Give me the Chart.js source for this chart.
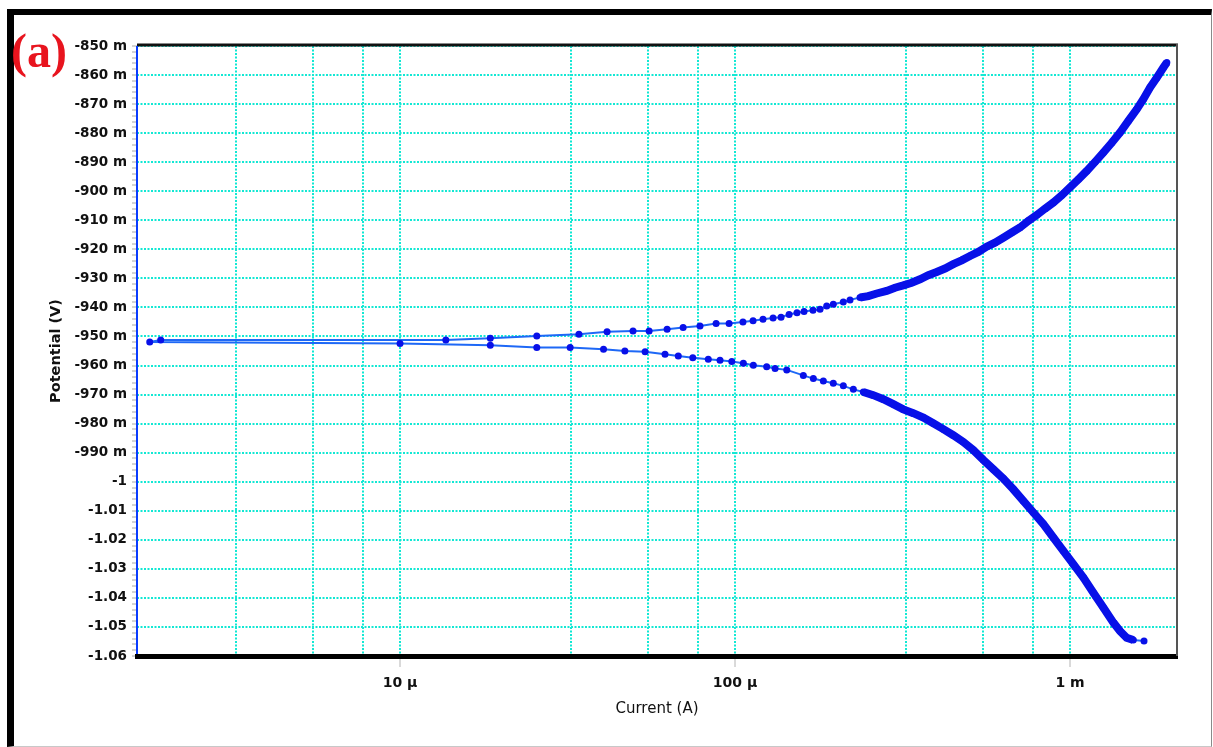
<!DOCTYPE html>
<html>
<head>
<meta charset="utf-8">
<title>Potentiodynamic polarization</title>
<script src="https://cdn.jsdelivr.net/npm/chart.js@4.4.1/dist/chart.umd.min.js"></script>
<style>
  html, body { margin: 0; padding: 0; background: #fff; }
  #wrap { position: relative; width: 1213px; height: 747px; overflow: hidden; }
  #frame {
    position: absolute; left: 7px; top: 9px; width: 1205px; height: 738px; box-sizing: border-box;
    border-left: 7px solid #000; border-top: 6px solid #000;
    border-right: 1px solid #8a8a8a; border-bottom: 1px solid #c8c8c8;
  }
  #chartBox { position: absolute; left: 0; top: 0; width: 1213px; height: 747px; }
  #panel {
    position: absolute; left: 11px; top: 23px; line-height: 1;
    font: bold 48px "Liberation Serif", "Times New Roman", serif; color: #e8141e;
  }
</style>
</head>
<body>
<div id="wrap">
  <div id="frame"></div>
  <div id="chartBox"><canvas id="tafel"></canvas></div>
  <div id="panel">(a)</div>
</div>
<script>
// cathodic branch, from Ecorr outwards (current in A, potential in V)
const cathodicCurrent = [
  1.79e-6, 1.00e-5, 1.86e-5, 2.56e-5, 3.22e-5, 4.05e-5, 4.69e-5, 5.39e-5, 6.18e-5, 6.77e-5,
  7.48e-5, 8.32e-5, 9.02e-5, 9.78e-5, 1.059e-4, 1.134e-4, 1.243e-4, 1.317e-4, 1.427e-4, 1.599e-4,
  1.713e-4, 1.835e-4, 1.965e-4, 2.105e-4, 2.255e-4, 2.415e-4, 2.587e-4, 2.771e-4, 2.968e-4, 3.179e-4,
  3.405e-4, 3.648e-4, 3.907e-4, 4.185e-4, 4.482e-4, 4.801e-4, 5.143e-4, 5.509e-4, 5.902e-4, 6.321e-4,
  6.772e-4, 7.254e-4, 7.771e-4, 8.325e-4, 8.915e-4, 9.550e-4, 1.023e-3, 1.096e-3, 1.174e-3, 1.257e-3,
  1.347e-3, 1.410e-3, 1.476e-3, 1.545e-3, 1.663e-3
];
const cathodicPotential = [
  -0.9519, -0.9524, -0.9530, -0.9538, -0.9538, -0.9544, -0.9550, -0.9553, -0.9561, -0.9567,
  -0.9573, -0.9578, -0.9582, -0.9586, -0.9592, -0.9599, -0.9604, -0.9610, -0.9615, -0.9634,
  -0.9645, -0.9653, -0.9661, -0.9670, -0.9682, -0.9691, -0.9702, -0.9716, -0.9733, -0.9751,
  -0.9764, -0.9779, -0.9799, -0.9819, -0.9840, -0.9863, -0.9891, -0.9925, -0.9957, -0.9989,
  -1.0026, -1.0066, -1.0106, -1.0146, -1.0192, -1.0238, -1.0284, -1.0330, -1.0382, -1.0433,
  -1.0485, -1.0514, -1.0537, -1.0545, -1.0548
];

// anodic branch, from Ecorr outwards
const anodicCurrent = [
  1.93e-6, 1.37e-5, 1.86e-5, 2.56e-5, 3.42e-5, 4.15e-5, 4.96e-5, 5.54e-5, 6.27e-5, 7.00e-5,
  7.86e-5, 8.78e-5, 9.60e-5, 1.056e-4, 1.132e-4, 1.212e-4, 1.299e-4, 1.372e-4, 1.450e-4, 1.531e-4,
  1.607e-4, 1.709e-4, 1.794e-4, 1.878e-4, 1.965e-4, 2.105e-4, 2.204e-4, 2.361e-4, 2.500e-4, 2.649e-4,
  2.836e-4, 3.003e-4, 3.179e-4, 3.368e-4, 3.565e-4, 3.776e-4, 3.999e-4, 4.234e-4, 4.482e-4, 4.749e-4,
  5.028e-4, 5.323e-4, 5.638e-4, 5.970e-4, 6.321e-4, 6.698e-4, 7.089e-4, 7.506e-4, 7.952e-4, 8.419e-4,
  8.915e-4, 9.445e-4, 1.000e-3, 1.059e-3, 1.122e-3, 1.188e-3, 1.257e-3, 1.332e-3, 1.410e-3, 1.493e-3,
  1.582e-3, 1.655e-3, 1.733e-3, 1.815e-3, 1.900e-3, 1.945e-3
];
const anodicPotential = [
  -0.9512, -0.9512, -0.9506, -0.9498, -0.9492, -0.9484, -0.9481, -0.9481, -0.9475, -0.9469,
  -0.9464, -0.9455, -0.9455, -0.9450, -0.9446, -0.9441, -0.9436, -0.9434, -0.9424, -0.9418,
  -0.9414, -0.9410, -0.9406, -0.9395, -0.9389, -0.9381, -0.9374, -0.9366, -0.9361, -0.9352,
  -0.9343, -0.9332, -0.9324, -0.9315, -0.9303, -0.9289, -0.9278, -0.9266, -0.9251, -0.9238,
  -0.9223, -0.9209, -0.9191, -0.9177, -0.9160, -0.9142, -0.9125, -0.9102, -0.9082, -0.9060,
  -0.9039, -0.9014, -0.8987, -0.8959, -0.8930, -0.8899, -0.8867, -0.8833, -0.8798, -0.8758,
  -0.8718, -0.8683, -0.8643, -0.8609, -0.8574, -0.8557
];

// axis ticks
const potentialTicks = [
  -0.85, -0.86, -0.87, -0.88, -0.89, -0.90, -0.91, -0.92, -0.93, -0.94, -0.95,
  -0.96, -0.97, -0.98, -0.99, -1.00, -1.01, -1.02, -1.03, -1.04, -1.05, -1.06
];
const potentialLabels = [
  '-850 m', '-860 m', '-870 m', '-880 m', '-890 m', '-900 m', '-910 m', '-920 m', '-930 m', '-940 m', '-950 m',
  '-960 m', '-970 m', '-980 m', '-990 m', '-1', '-1.01', '-1.02', '-1.03', '-1.04', '-1.05', '-1.06'
];
const currentTicks = [1e-5, 1e-4, 1e-3];
const currentLabels = ['10 µ', '100 µ', '1 m'];
const currentGrid = [3.24e-6, 5.48e-6, 7.73e-6, 3.24e-5, 5.48e-5, 7.73e-5, 3.24e-4, 5.48e-4, 7.73e-4];

const currentMin = 1.64e-6;
const currentMax = 2.086e-3;

const GRID = 'rgb(18, 232, 212)';
const MARK = 'rgb(8, 16, 232)';
const LINE = 'rgb(30, 104, 246)';

// the scan runs from the cathodic end, through Ecorr, out along the anodic side
const scan = [];
for (let i = cathodicCurrent.length - 1; i >= 0; i--) {
  scan.push({ x: cathodicCurrent[i], y: cathodicPotential[i] });
}
for (let i = 0; i < anodicCurrent.length; i++) {
  scan.push({ x: anodicCurrent[i], y: anodicPotential[i] });
}

function findTick(values, v) {
  return values.findIndex(t => Math.abs(t - v) <= Math.abs(t) * 1e-4);
}

// edges of the plot box: blue left axis, black top, grey right
const plotFrame = {
  id: 'plotFrame',
  afterDraw(chart) {
    const { ctx, chartArea: a } = chart;
    ctx.save();
    ctx.lineWidth = 3;
    ctx.strokeStyle = '#111';
    ctx.beginPath();
    ctx.moveTo(a.left, a.top - 1);
    ctx.lineTo(a.right + 1, a.top - 1);
    ctx.stroke();
    ctx.lineWidth = 2;
    ctx.strokeStyle = '#555';
    ctx.beginPath();
    ctx.moveTo(a.right, a.top - 2);
    ctx.lineTo(a.right, a.bottom);
    ctx.stroke();
    ctx.strokeStyle = '#0a3cff';
    ctx.beginPath();
    ctx.moveTo(a.left, a.top);
    ctx.lineTo(a.left, a.bottom - 2);
    ctx.stroke();
    ctx.restore();
  }
};

const denseFrom = 2.3e-4;
const isDense = c => c.p0DataIndex > 0 && c.p0.parsed.x >= denseFrom && c.p1.parsed.x >= denseFrom;

new Chart(document.getElementById('tafel'), {
  type: 'scatter',
  data: {
    datasets: [{
      label: 'Potential',
      data: scan,
      showLine: true,
      tension: 0,
      borderColor: LINE,
      borderWidth: 2,
      pointRadius: 3.5,
      pointBorderWidth: 0,
      pointBackgroundColor: MARK,
      pointHoverRadius: 3.5,
      segment: {
        // where the points crowd together they read as one heavy band
        borderWidth: c => isDense(c) ? 8 : 2,
        borderColor: c => isDense(c) ? MARK : LINE
      }
    }]
  },
  options: {
    responsive: true,
    maintainAspectRatio: false,
    animation: false,
    events: [],
    layout: { padding: { top: 46, right: 36, left: 0, bottom: 0 } },
    plugins: {
      legend: { display: false },
      tooltip: { enabled: false }
    },
    scales: {
      x: {
        type: 'logarithmic',
        position: 'bottom',
        bounds: 'data',
        min: currentMin,
        max: currentMax,
        afterFit: s => { s.height = 91; },
        afterBuildTicks: s => {
          s.ticks = currentGrid.concat(currentTicks).sort((a, b) => a - b).map(v => ({ value: v }));
        },
        grid: {
          color: GRID,
          lineWidth: 2,
          tickLength: 11,
          tickWidth: 1,
          tickColor: c => (c.tick && findTick(currentTicks, c.tick.value) >= 0) ? '#b4b4b4' : 'rgba(0,0,0,0)'
        },
        border: { display: true, color: '#000', width: 5, dash: [2, 1.5] },
        ticks: {
          autoSkip: false,
          maxRotation: 0,
          padding: 8,
          color: '#111',
          font: { family: 'DejaVu Sans', size: 14, weight: 'bold' },
          callback: v => {
            const i = findTick(currentTicks, v);
            return i < 0 ? '' : currentLabels[i];
          }
        },
        title: {
          display: true,
          text: 'Current (A)',
          color: '#111',
          font: { family: 'DejaVu Sans', size: 15 },
          padding: { top: 0, bottom: 29 }
        }
      },
      y: {
        type: 'linear',
        position: 'left',
        bounds: 'data',
        min: -1.06,
        max: -0.85,
        afterFit: s => { s.width = 137; },
        afterBuildTicks: s => {
          // minor ticks every 2 mV between the labelled ones
          const lo = Math.round(Math.min(...potentialTicks) * 1000);
          const hi = Math.round(Math.max(...potentialTicks) * 1000);
          const t = [];
          for (let mv = lo; mv <= hi; mv += 2) t.push({ value: mv / 1000 });
          s.ticks = t;
        },
        grid: {
          color: c => (c.tick && findTick(potentialTicks, c.tick.value) >= 0) ? GRID : 'rgba(0,0,0,0)',
          lineWidth: 2,
          tickLength: 5,
          tickWidth: 1,
          tickColor: '#a8a8a8'
        },
        border: { display: false, dash: [2, 1.5] },
        ticks: {
          autoSkip: false,
          padding: 5,
          color: '#111',
          font: { family: 'DejaVu Sans', size: 13.5, weight: 'bold' },
          callback: v => {
            const i = findTick(potentialTicks, v);
            return i < 0 ? '' : potentialLabels[i];
          }
        },
        title: {
          display: true,
          text: 'Potential (V)',
          color: '#111',
          font: { family: 'DejaVu Sans', size: 14.5, weight: 'bold' },
          padding: { top: 48, bottom: 0 }
        }
      }
    }
  },
  plugins: [plotFrame]
});
</script>
</body>
</html>
